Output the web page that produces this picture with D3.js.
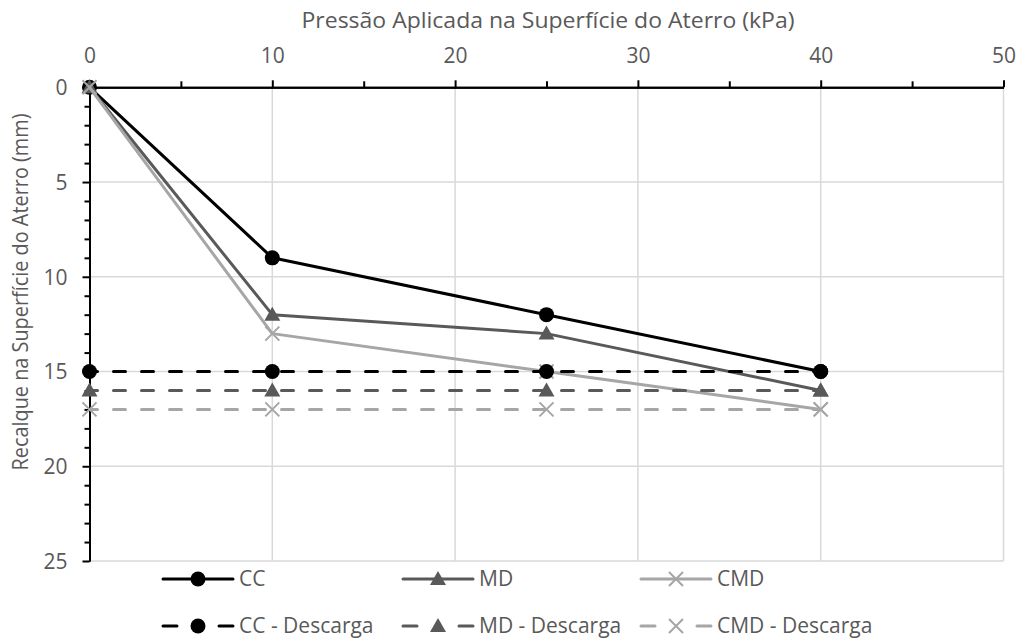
<!DOCTYPE html>
<html>
<head>
<meta charset="utf-8">
<script src="https://cdn.jsdelivr.net/npm/d3@7"></script>
<style>
  html, body { margin: 0; padding: 0; background: #fff; }
  svg { display: block; font-family: "Open Sans", sans-serif; }
</style>
</head>
<body>
<svg id="chart" width="1029" height="639"></svg>
<script>
// ---- data ----
const pressure = [0, 10, 25, 40];
const ccLoad = [0, 9, 12, 15];
const mdLoad = [0, 12, 13, 16];
const cmdLoad = [0, 13, 15, 17];
const ccUnload = [15, 15, 15, 15];
const mdUnload = [16, 16, 16, 16];
const cmdUnload = [17, 17, 17, 17];
const xTicks = [0, 10, 20, 30, 40, 50];
const yTicks = [0, 5, 10, 15, 20, 25];
const seriesNames = ["CC", "MD", "CMD", "CC - Descarga", "MD - Descarga", "CMD - Descarga"];
const xTitle = "Pressão Aplicada na Superfície do Aterro (kPa)";
const yTitle = "Recalque na Superfície do Aterro (mm)";

const series = [
  { name: seriesNames[0], values: ccLoad, color: "#000000", marker: "circle", dashed: false },
  { name: seriesNames[1], values: mdLoad, color: "#595959", marker: "triangle", dashed: false },
  { name: seriesNames[2], values: cmdLoad, color: "#a6a6a6", marker: "x", dashed: false },
  { name: seriesNames[3], values: ccUnload, color: "#000000", marker: "circle", dashed: true },
  { name: seriesNames[4], values: mdUnload, color: "#595959", marker: "triangle", dashed: true },
  { name: seriesNames[5], values: cmdUnload, color: "#a6a6a6", marker: "x", dashed: true }
];

const svg = d3.select("#chart");
const pLeft = 89.5, pRight = 1003.5, pTop = 87.3, pBottom = 561;
const x = d3.scaleLinear().domain([0, 50]).range([pLeft, pRight]);
const y = d3.scaleLinear().domain([0, 25]).range([pTop, pBottom]);
const textColor = "#595959";
const gridColor = "#d9d9d9";
const fs = 21;

// gridlines
svg.append("g").selectAll("line").data(xTicks.filter(d => d > 0)).join("line")
  .attr("x1", d => x(d)).attr("x2", d => x(d)).attr("y1", pTop).attr("y2", pBottom)
  .attr("stroke", gridColor).attr("stroke-width", 1.5);
svg.append("g").selectAll("line").data(yTicks.filter(d => d > 0)).join("line")
  .attr("x1", pLeft).attr("x2", pRight).attr("y1", d => y(d)).attr("y2", d => y(d))
  .attr("stroke", gridColor).attr("stroke-width", 1.5);

// axes
const xAxis = svg.append("g").attr("transform", `translate(0,${pTop})`)
  .call(d3.axisTop(x).tickValues(xTicks).tickSize(7).tickSizeOuter(0).tickFormat(d3.format("d")));
const xMinor = svg.append("g").attr("transform", `translate(0,${pTop})`)
  .call(d3.axisTop(x).tickValues(d3.range(5, 50, 10)).tickSize(6).tickSizeOuter(0).tickFormat(""));
const yAxis = svg.append("g").attr("transform", `translate(${pLeft},0)`)
  .call(d3.axisLeft(y).tickValues(yTicks).tickSize(7).tickSizeOuter(0).tickFormat(d3.format("d")));
const yMinor = svg.append("g").attr("transform", `translate(${pLeft},0)`)
  .call(d3.axisLeft(y).tickValues(d3.range(0, 26).filter(d => d % 5 !== 0)).tickSize(5).tickSizeOuter(0).tickFormat(""));

[xAxis, xMinor, yAxis, yMinor].forEach(g => {
  g.select(".domain").attr("stroke", "#000").attr("stroke-width", 2);
  g.selectAll(".tick line").attr("stroke", "#000").attr("stroke-width", 2);
});
xAxis.selectAll(".tick text").attr("fill", textColor).attr("font-size", fs)
  .attr("font-family", "Open Sans").attr("y", -24);
yAxis.selectAll(".tick text").attr("fill", textColor).attr("font-size", fs)
  .attr("font-family", "Open Sans").attr("x", -22).attr("dy", "0.35em");

// axis titles
svg.append("text").attr("x", 548).attr("y", 28).attr("text-anchor", "middle")
  .attr("fill", textColor).attr("font-size", fs)
  .attr("textLength", 493).attr("lengthAdjust", "spacingAndGlyphs").text(xTitle);
svg.append("text").attr("transform", `translate(28,292) rotate(-90)`).attr("text-anchor", "middle")
  .attr("fill", textColor).attr("font-size", fs)
  .attr("textLength", 357).attr("lengthAdjust", "spacingAndGlyphs").text(yTitle);

// markers
function drawMarker(g, type, color, cx, cy) {
  if (type === "circle") {
    g.append("circle").attr("cx", cx).attr("cy", cy).attr("r", 7.5).attr("fill", color);
  } else if (type === "triangle") {
    g.append("path").attr("d", `M${cx},${cy - 8}L${cx + 8},${cy + 6}L${cx - 8},${cy + 6}Z`).attr("fill", color);
  } else {
    const s = 7;
    g.append("path").attr("d", `M${cx - s},${cy - s}L${cx + s},${cy + s}M${cx - s},${cy + s}L${cx + s},${cy - s}`)
      .attr("stroke", color).attr("stroke-width", 2).attr("fill", "none");
  }
}

const line = d3.line().x(d => x(d[0])).y(d => y(d[1]));
series.forEach(s => {
  const pts = pressure.map((p, i) => [p, s.values[i]]);
  const g = svg.append("g");
  g.append("path").attr("d", line(pts)).attr("fill", "none").attr("stroke", s.color)
    .attr("stroke-width", 3).attr("stroke-linejoin", "round")
    .attr("stroke-linecap", "round")
    .attr("stroke-dasharray", s.dashed ? "12,16" : null)
    .attr("stroke-dashoffset", s.dashed ? 4 : null);
  pts.forEach(p => drawMarker(g, s.marker, s.color, x(p[0]), y(p[1])));
});

// legend
const legendCols = [163, 403, 641];
const legendRows = [579, 626];
series.forEach((s, i) => {
  const lx = legendCols[i % 3], ly = legendRows[Math.floor(i / 3)];
  const g = svg.append("g");
  g.append("line").attr("x1", lx).attr("x2", lx + 70).attr("y1", ly).attr("y2", ly)
    .attr("stroke", s.color).attr("stroke-width", 3).attr("stroke-linecap", "round")
    .attr("stroke-dasharray", s.dashed ? "14,42,14" : null);
  drawMarker(g, s.marker, s.color, lx + 35, ly);
  g.append("text").attr("x", lx + 76).attr("y", ly).attr("dy", "0.35em")
    .attr("fill", textColor).attr("font-size", fs).text(s.name);
});
</script>
</body>
</html>
